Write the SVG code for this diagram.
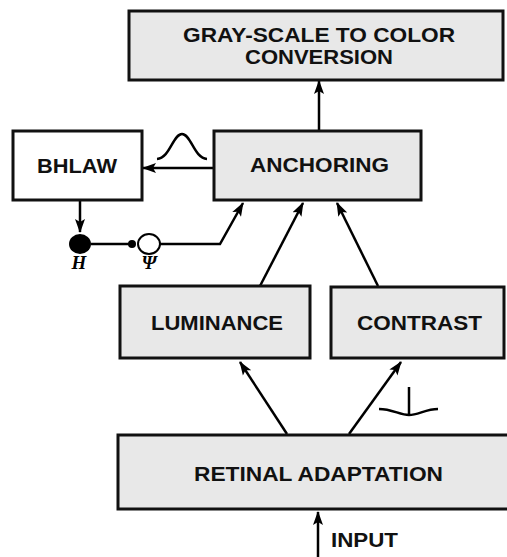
<svg xmlns="http://www.w3.org/2000/svg" width="507" height="557" viewBox="0 0 507 557">
<defs>
<marker id="ah" markerUnits="userSpaceOnUse" markerWidth="14" markerHeight="12" viewBox="0 0 14 12" refX="13" refY="6" orient="auto">
<path d="M0,1 L14,6 L0,11 L3,6 Z" fill="#000"/>
</marker>
<style>
.box{fill:#e8e8e8;stroke:#111;stroke-width:3}
.wbox{fill:#fff;stroke:#111;stroke-width:3}
.lbl{font-family:"Liberation Sans",Arial,sans-serif;font-weight:bold;font-size:21px;fill:#111;text-anchor:middle}
.con{fill:none;stroke:#000;stroke-width:2.5}
.arr{fill:none;stroke:#000;stroke-width:2.5;marker-end:url(#ah)}
.sym{font-family:"Liberation Serif","Times New Roman",serif;font-weight:bold;font-style:italic;font-size:19px;fill:#000;text-anchor:middle}
</style>
</defs>
<rect width="507" height="557" fill="#fff"/>
<g id="connectors">
<line class="arr" x1="319" y1="131" x2="319" y2="81"/>
<line class="arr" x1="214" y1="168" x2="143" y2="168"/>
<path class="con" d="M157,159 C170,158 173,134 182,134 C191,134 194,158 207,159" stroke-width="2"/>
<line class="arr" x1="80" y1="200" x2="80" y2="232"/>
<line class="con" x1="91" y1="244" x2="132" y2="244"/>
<circle cx="132" cy="244" r="4" fill="#000"/>
<polyline class="arr" points="160,244 220,244 243,203"/>
<line class="arr" x1="260" y1="286" x2="303" y2="203"/>
<line class="arr" x1="378" y1="286" x2="337" y2="203"/>
<line class="arr" x1="287" y1="434" x2="240" y2="362"/>
<line class="arr" x1="349" y1="434" x2="401" y2="362"/>
<path class="con" d="M379,409 C392,409 400,415 409,415 C418,415 426,409 438,409" stroke-width="2"/>
<line class="con" x1="409" y1="387" x2="409" y2="415" stroke-width="2"/>
<line class="arr" x1="318" y1="557" x2="318" y2="512"/>
</g>
<g id="gray-scale">
<rect class="box" x="129" y="11" width="374" height="69"/>
<text class="lbl" x="319" y="42" textLength="272" lengthAdjust="spacingAndGlyphs">GRAY-SCALE TO COLOR</text>
<text class="lbl" x="319" y="64" textLength="148" lengthAdjust="spacingAndGlyphs">CONVERSION</text>
</g>
<g id="anchoring">
<rect class="box" x="214" y="131" width="207" height="69"/>
<text class="lbl" x="319.5" y="172" textLength="139" lengthAdjust="spacingAndGlyphs">ANCHORING</text>
</g>
<g id="bhlaw">
<rect class="wbox" x="13" y="131" width="129" height="69"/>
<text class="lbl" x="77" y="173" textLength="80" lengthAdjust="spacingAndGlyphs">BHLAW</text>
</g>
<g id="H">
<ellipse cx="80" cy="244" rx="11" ry="10" fill="#000"/>
<text class="sym" x="79" y="269">H</text>
</g>
<g id="Psi">
<ellipse cx="149" cy="244" rx="11" ry="10" fill="#fff" stroke="#000" stroke-width="2"/>
<text class="sym" x="149" y="269">Ψ</text>
</g>
<g id="luminance">
<rect class="box" x="120" y="286" width="190" height="72"/>
<text class="lbl" x="217" y="330" textLength="132" lengthAdjust="spacingAndGlyphs">LUMINANCE</text>
</g>
<g id="contrast">
<rect class="box" x="331" y="287" width="173" height="71"/>
<text class="lbl" x="419.5" y="330" textLength="125" lengthAdjust="spacingAndGlyphs">CONTRAST</text>
</g>
<g id="retinal">
<rect class="box" x="118" y="435" width="395" height="74"/>
<text class="lbl" x="318.5" y="481" textLength="249" lengthAdjust="spacingAndGlyphs">RETINAL ADAPTATION</text>
</g>
<g id="input">
<text class="lbl" x="364.5" y="547" textLength="67" lengthAdjust="spacingAndGlyphs">INPUT</text>
</g>
</svg>
